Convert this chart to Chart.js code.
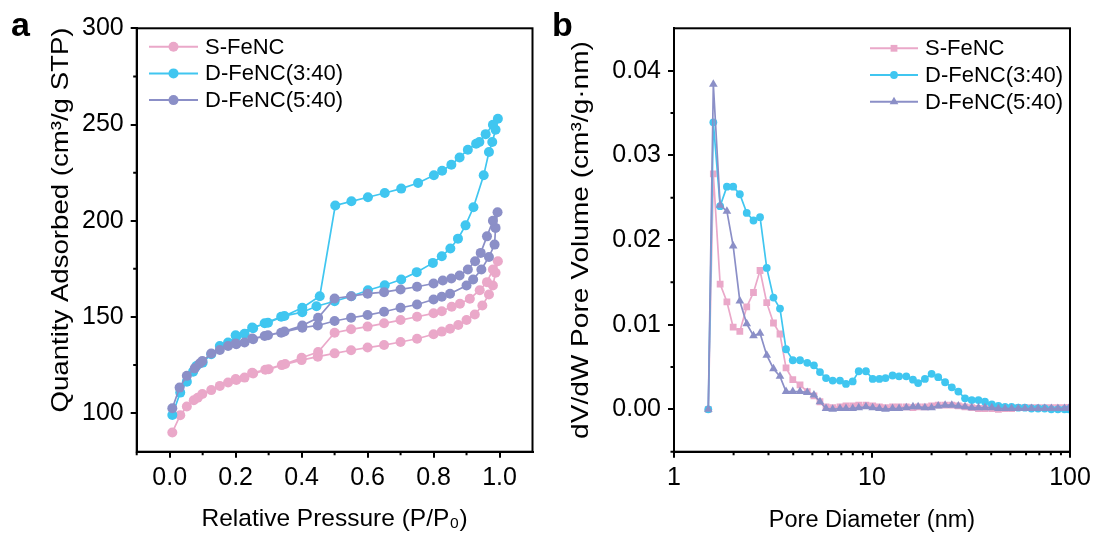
<!DOCTYPE html>
<html><head><meta charset="utf-8">
<script src="https://cdn.jsdelivr.net/npm/chart.js@4.4.0/dist/chart.umd.min.js"></script>
<style>
html,body{margin:0;padding:0;background:#fff;width:1097px;height:538px;overflow:hidden;}
#ca{position:absolute;left:0;top:0;}
#cb{position:absolute;left:548px;top:0;}
.lab{position:absolute;font:bold 34px "Liberation Sans",Arial,sans-serif;line-height:34px;color:#000;}
</style></head><body>
<canvas id="ca" width="548" height="538"></canvas>
<canvas id="cb" width="549" height="538"></canvas>
<div class="lab" style="left:11px;top:7px">a</div>
<div class="lab" style="left:552px;top:7px">b</div>
<script>
// ---------- Panel a: N2 isotherms (adsorption then desorption) ----------
const seriesNames = ['S-FeNC', 'D-FeNC(3:40)', 'D-FeNC(5:40)'];

const sAdsP = [0.008,0.032,0.052,0.073,0.085,0.099,0.126,0.152,0.177,0.202,0.227,0.253,0.30,0.34,0.40,0.449,0.50,0.55,0.60,0.65,0.70,0.75,0.80,0.825,0.85,0.875,0.90,0.925,0.948,0.968,0.98,0.988,0.995];
const sAdsQ = [90,99,103.5,106.7,108,110,112,114.2,116,117.3,118.5,120.6,122.8,125,127.6,129.4,131.1,132.7,134.1,135.4,137,138.7,141,142.4,143.9,145.8,148.4,151.3,156,161.7,166.4,173,179];
const sDesP = [0.98,0.962,0.94,0.91,0.88,0.855,0.825,0.80,0.75,0.70,0.65,0.60,0.55,0.50,0.45,0.40,0.35,0.29,0.25,0.20];
const sDesQ = [174.7,168.1,163.9,159.5,156.9,155.3,153,151.9,150.1,148.4,146.7,145,143.6,141.8,131.8,128.8,125.6,122.6,121,117.8];

const d3AdsP = [0.008,0.032,0.052,0.071,0.081,0.10,0.126,0.152,0.177,0.202,0.227,0.253,0.288,0.338,0.402,0.445,0.50,0.551,0.601,0.652,0.702,0.749,0.798,0.825,0.851,0.874,0.897,0.921,0.952,0.968,0.978,0.988,0.995];
const d3AdsQ = [99.1,110.7,116.4,121.6,124.5,126.3,130.6,134.9,136.7,139.8,141.3,144.1,146.7,150.1,152.5,155.6,158.2,160.8,163.9,166.5,169.5,173.3,178.1,181.6,185.6,190.7,197.6,207,223.6,235.7,240.9,247.3,253];
const d3DesP = [0.98,0.958,0.939,0.929,0.904,0.879,0.854,0.826,0.801,0.753,0.702,0.652,0.601,0.551,0.502,0.455,0.402,0.348,0.298,0.25,0.20];
const d3DesQ = [249.9,245,240.9,240,236.9,232.9,229.1,226,223.6,219.6,216.7,214.4,212.2,210.1,207.9,160.8,154.8,150.5,147,144.5,140.5];

const d5AdsP = [0.008,0.03,0.052,0.076,0.091,0.099,0.126,0.152,0.177,0.202,0.227,0.253,0.288,0.338,0.402,0.449,0.50,0.55,0.60,0.65,0.70,0.75,0.80,0.825,0.85,0.90,0.92,0.945,0.968,0.985,0.988,0.994];
const d5AdsQ = [102.6,113.3,119.4,123.3,125.8,127.1,131,132.8,134.9,135.8,136.7,138.4,140.1,141.8,144.4,145.6,147.9,149.6,151,152.7,154.8,156.5,159.1,160.5,162.1,166.4,169.5,174.7,181.2,187.6,196.3,204.4];
const d5DesP = [0.98,0.962,0.943,0.926,0.904,0.879,0.854,0.828,0.80,0.75,0.70,0.65,0.60,0.55,0.50,0.45,0.402,0.348,0.298,0.25,0.20];
const d5DesQ = [200,191.9,183.3,179,174.7,171.6,170,169,167.4,165.7,164.3,162.9,162.1,160.8,159.6,149.6,145.6,142.5,140.5,138.8,136.2];

const xTicksA = [0.0,0.2,0.4,0.6,0.8,1.0];
const xMinorA = [-0.1,0.1,0.3,0.5,0.7,0.9];
const yTicksA = [100,150,200,250,300];
const yMinorA = [125,175,225,275];

// ---------- Panel b: pore size distribution ----------
const poreD = [1.49,1.58,1.71,1.85,1.99,2.15,2.33,2.52,2.72,2.94,3.18,3.43,3.68,3.98,4.33,4.71,5.09,5.46,5.86,6.33,6.89,7.39,7.99,8.57,9.32,10.08,10.9,11.7,12.7,13.7,14.9,16.1,17.1,18.5,20.0,21.6,23.4,25.3,27.3,29.5,31.9,34.5,37.2,40.3,43.5,47.0,50.7,54.8,59.2,63.9,69.0,74.5,80.5,86.9,93.8,98.5];
const psdS = [0,0.0278,0.0148,0.0127,0.0097,0.0092,0.0121,0.0138,0.0164,0.0126,0.0102,0.0089,0.0049,0.0035,0.0029,0.0021,0.0016,0.0009,0.0003,0.0002,0.0003,0.0004,0.0004,0.0005,0.0005,0.0004,0.0003,0.0002,0.0003,0.0003,0.0003,0.0002,0.0003,0.0003,0.0004,0.0005,0.0005,0.0005,0.0004,0.0003,0.0002,0.0001,0.0001,0.0001,0.0000,0.0001,0.0001,0.0002,0.0002,0.0002,0.0002,0.0002,0.0002,0.0002,0.0002,0.0002];
const psdD3 = [0,0.0339,0.0240,0.0263,0.0263,0.0254,0.0232,0.0223,0.0227,0.0167,0.0132,0.0119,0.0071,0.0058,0.0058,0.0055,0.0052,0.0044,0.0037,0.0034,0.0034,0.0030,0.0033,0.0045,0.0045,0.0036,0.0036,0.0037,0.0040,0.0039,0.0039,0.0035,0.0031,0.0036,0.0042,0.0038,0.0032,0.0026,0.0021,0.0013,0.0011,0.0011,0.0009,0.0006,0.0004,0.0003,0.0003,0.0002,0.0002,0.0001,0.0001,0.0001,0.0000,0.0000,0.0000,0.0000];
const psdD5 = [0,0.0384,0.0241,0.0234,0.0193,0.0128,0.0101,0.0087,0.0090,0.0064,0.0048,0.0039,0.0021,0.0021,0.0021,0.0020,0.0017,0.0009,0.0001,0.0000,0.0001,0.0001,0.0001,0.0002,0.0003,0.0002,0.0001,0.0000,0.0001,0.0001,0.0002,0.0003,0.0003,0.0002,0.0002,0.0004,0.0005,0.0005,0.0004,0.0003,0.0002,0.0002,0.0002,0.0002,0.0001,0.0001,0.0001,0.0001,0.0001,0.0001,0.0001,0.0001,0.0001,0.0001,0.0001,0.0001];

const xTicksB = [1,10,100];
const xMinorB = [2,3,4,5,6,7,8,9,20,30,40,50,60,70,80,90];
const yTicksB = [0.00,0.01,0.02,0.03,0.04];
const yMinorB = [-0.005,0.005,0.015,0.025,0.035];

const yTitleA = 'Quantity Adsorbed (cm\u00B3/g STP)';
const yTitleB = 'dV/dW Pore Volume (cm\u00B3/g\u00B7nm)';

const colPink = '#EAA8C9';
const colCyan = '#40C6F0';
const colPurple = '#8B8FC7';

const FONT = '"Liberation Sans", Arial, sans-serif';
Chart.defaults.font.family = FONT;
Chart.defaults.color = '#000';

function pts(px, py){ return px.map((p,i)=>({x:p, y:py[i]})); }

function drawMarker(ctx, style, r, x, y, color){
  ctx.save(); ctx.fillStyle = color; ctx.beginPath();
  if (style === 'rect') { const s = r*Math.SQRT1_2; ctx.rect(x-s, y-s, 2*s, 2*s); }
  else if (style === 'triangle') {
    ctx.moveTo(x, y - r); ctx.lineTo(x + r*0.866, y + r*0.5); ctx.lineTo(x - r*0.866, y + r*0.5); ctx.closePath();
  } else { ctx.arc(x, y, r, 0, Math.PI*2); }
  ctx.fill(); ctx.restore();
}

const framePlugin = {
  id: 'frameMinor',
  afterDraw(chart, args, opts) {
    const {ctx, chartArea: a, scales} = chart;
    ctx.save();
    ctx.strokeStyle = '#000'; ctx.lineWidth = 2;
    ctx.strokeRect(a.left, a.top, a.right - a.left, a.bottom - a.top);
    // minor ticks
    ctx.beginPath();
    (opts.xMinor || []).forEach(v => {
      const x = scales.x.getPixelForValue(v);
      if (x < a.left - 0.5 || x > a.right + 0.5) return;
      ctx.moveTo(x, a.bottom); ctx.lineTo(x, a.bottom + 3.5);
    });
    (opts.yMinor || []).forEach(v => {
      const y = scales.y.getPixelForValue(v);
      if (y < a.top - 0.5 || y > a.bottom + 0.5) return;
      ctx.moveTo(a.left, y); ctx.lineTo(a.left - 3.5, y);
    });
    ctx.stroke();
    // vertical axis title (stretched along its length like the reference)
    const T = opts.yTitle;
    if (T) {
      ctx.save();
      ctx.translate(T.cx, T.cy);
      ctx.rotate(-Math.PI/2);
      ctx.scale(T.stretch, 1);
      ctx.font = T.size + 'px ' + FONT;
      ctx.fillStyle = '#000'; ctx.textAlign = 'center'; ctx.textBaseline = 'middle';
      ctx.fillText(T.text, 0, 0);
      ctx.restore();
    }
    // legend
    const L = opts.legend;
    if (L) {
      ctx.font = L.fontSize + 'px ' + FONT;
      ctx.textBaseline = 'middle'; ctx.textAlign = 'left';
      chart.data.datasets.forEach((ds, i) => {
        const y = L.y0 + i * L.dy;
        ctx.strokeStyle = ds.borderColor; ctx.lineWidth = 2;
        ctx.beginPath(); ctx.moveTo(L.x1, y); ctx.lineTo(L.x2, y); ctx.stroke();
        drawMarker(ctx, ds.pointStyle || 'circle', ds.pointRadius, (L.x1 + L.x2)/2, y, ds.pointBackgroundColor);
        ctx.fillStyle = '#000';
        ctx.fillText(ds.label, L.xt, y + 1);
      });
    }
    ctx.restore();
  }
};

function tickSetter(arr){ return s => { s.ticks = arr.map(v => ({value: v})); }; }

function lineDs(label, data, color, style, r, order){
  return { label, data, borderColor: color, backgroundColor: color, pointBackgroundColor: color,
    pointBorderWidth: 0, pointRadius: r, pointHoverRadius: r, pointStyle: style, borderWidth: 1.7,
    tension: 0, showLine: true, fill: false, order };
}

const axisCommon = {
  grid: { display: true, drawOnChartArea: false, drawTicks: true, tickLength: 6, color: '#000', lineWidth: 2 },
  border: { display: true, color: '#000', width: 2 },
};

new Chart(document.getElementById('ca'), {
  type: 'scatter',
  data: { datasets: [
    lineDs(seriesNames[0], pts(sAdsP.concat(sDesP), sAdsQ.concat(sDesQ)), colPink, 'circle', 5, 3),
    lineDs(seriesNames[1], pts(d3AdsP.concat(d3DesP), d3AdsQ.concat(d3DesQ)), colCyan, 'circle', 5, 2),
    lineDs(seriesNames[2], pts(d5AdsP.concat(d5DesP), d5AdsQ.concat(d5DesQ)), colPurple, 'circle', 5, 1),
  ]},
  options: {
    responsive: false, animation: false, events: [],
    layout: { padding: { left: 0, right: 15.5, top: 28.3, bottom: 0 } },
    plugins: { legend: { display: false }, tooltip: { enabled: false },
      frameMinor: { xMinor: xMinorA, yMinor: yMinorA,
        yTitle: { text: yTitleA, cx: 61, cy: 220, size: 24, stretch: 1.15 },
        legend: { x1: 149, x2: 198, xt: 205, y0: 46.7, dy: 26.7, fontSize: 22 } } },
    scales: {
      x: Object.assign({}, axisCommon, { type: 'linear', min: -0.1, max: 1.1,
        afterBuildTicks: tickSetter(xTicksA), afterFit: s => { s.height = 86.3; },
        ticks: { callback: v => Number(v).toFixed(1), font: { size: 25 }, padding: 5, maxRotation: 0, autoSkip: false },
        title: { display: true, text: 'Relative Pressure (P/P\u2080)', font: { size: 24.5 }, padding: { top: 0, bottom: 3.6 } } }),
      y: Object.assign({}, axisCommon, { type: 'linear', min: 80, max: 300,
        afterBuildTicks: tickSetter(yTicksA), afterFit: s => { s.width = 136.7; },
        ticks: { callback: v => String(v), font: { size: 25 }, padding: 7, autoSkip: false },
        title: { display: false } })
    }
  },
  plugins: [framePlugin]
});

new Chart(document.getElementById('cb'), {
  type: 'scatter',
  data: { datasets: [
    lineDs(seriesNames[0], pts(poreD, psdS), colPink, 'rect', 4.8, 3),
    lineDs(seriesNames[1], pts(poreD, psdD3), colCyan, 'circle', 3.9, 2),
    lineDs(seriesNames[2], pts(poreD, psdD5), colPurple, 'triangle', 5, 1),
  ]},
  options: {
    responsive: false, animation: false, events: [],
    layout: { padding: { left: 0, right: 27, top: 28.3, bottom: 0 } },
    plugins: { legend: { display: false }, tooltip: { enabled: false },
      frameMinor: { xMinor: xMinorB, yMinor: yMinorB,
        yTitle: { text: yTitleB, cx: 33, cy: 240, size: 24, stretch: 1.17 },
        legend: { x1: 322, x2: 370, xt: 377, y0: 48.3, dy: 26.7, fontSize: 22 } } },
    scales: {
      x: Object.assign({}, axisCommon, { type: 'logarithmic', min: 1, max: 100,
        afterBuildTicks: tickSetter(xTicksB), afterFit: s => { s.height = 86.3; },
        ticks: { callback: v => String(v), font: { size: 25 }, padding: 5, maxRotation: 0, autoSkip: false },
        title: { display: true, text: 'Pore Diameter (nm)', font: { size: 23.5 }, padding: { top: 0, bottom: 3.6 } } }),
      y: Object.assign({}, axisCommon, { type: 'linear', min: -0.005, max: 0.045,
        afterBuildTicks: tickSetter(yTicksB), afterFit: s => { s.width = 126; },
        ticks: { callback: v => Number(v).toFixed(2), font: { size: 25 }, padding: 7, autoSkip: false },
        title: { display: false } })
    }
  },
  plugins: [framePlugin]
});
</script>
</body></html>
